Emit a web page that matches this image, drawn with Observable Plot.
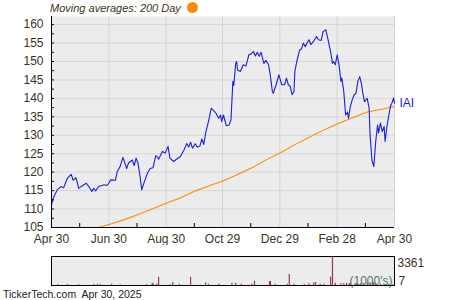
<!DOCTYPE html>
<html><head><meta charset="utf-8">
<script src="https://cdn.jsdelivr.net/npm/d3@7"></script>
<script src="https://cdn.jsdelivr.net/npm/@observablehq/plot@0.6"></script>
<style>
body{margin:0;background:#fff;font-family:"Liberation Sans",Arial,sans-serif;}
#wrap{position:relative;width:450px;height:300px;overflow:hidden;}
#main{position:absolute;left:0;top:0;}
#vol{position:absolute;left:0;top:250px;}
#legend{position:absolute;left:50px;top:1px;font-size:11px;font-style:italic;color:#3d3320;white-space:nowrap;line-height:14px;}
#legend .dot{display:inline-block;width:11px;height:11px;border-radius:50%;background:#ff8c00;margin-left:6px;vertical-align:-1px}
#caption{position:absolute;left:3px;top:288px;font-size:10.5px;color:#222;white-space:pre;line-height:13px;}
</style></head><body>
<div id="wrap">
<div id="main"></div><div id="vol"></div>
<div id="legend">Moving averages: 200 Day<span class="dot"></span></div>
<div id="caption">TickerTech.com  Apr 30, 2025</div>
</div>
<script>
const ticker = "IAI";
const xDomain = ["2024-04-30", "2025-04-30"];
const yDomain = [105, 162.2];
const yTicks = [105,110,115,120,125,130,135,140,145,150,155,160];
const yMinorTicks = [107.5,112.5,117.5,122.5,127.5,132.5,137.5,142.5,147.5,152.5,157.5];
const xTickDates = ["2024-04-30","2024-06-30","2024-08-30","2024-10-29","2024-12-29","2025-02-28","2025-04-30"];
const xTickLabels = ["Apr 30","Jun 30","Aug 30","Oct 29","Dec 29","Feb 28","Apr 30"];
const xMinorDates = ["2024-05-30","2024-07-30","2024-09-29","2024-11-28","2025-01-28","2025-03-30"];

const priceDates = ["2024-04-30","2024-05-02","2024-05-06","2024-05-10","2024-05-13","2024-05-17","2024-05-21","2024-05-23","2024-05-26","2024-05-29",
"2024-06-01","2024-06-06","2024-06-09","2024-06-12","2024-06-14","2024-06-16","2024-06-19","2024-06-25","2024-06-28","2024-06-30",
"2024-07-02","2024-07-07","2024-07-09","2024-07-12","2024-07-15","2024-07-17","2024-07-19","2024-07-21","2024-07-25","2024-07-27",
"2024-07-29","2024-07-31","2024-08-02","2024-08-04","2024-08-07","2024-08-10","2024-08-13","2024-08-16","2024-08-19","2024-08-21",
"2024-08-22","2024-08-26","2024-08-29","2024-09-01","2024-09-03","2024-09-07","2024-09-10","2024-09-14","2024-09-18","2024-09-21",
"2024-09-23","2024-09-25","2024-09-27","2024-09-30","2024-10-02","2024-10-05","2024-10-07","2024-10-09","2024-10-11","2024-10-14",
"2024-10-17","2024-10-19","2024-10-22","2024-10-25","2024-10-27","2024-10-28","2024-10-30","2024-11-02","2024-11-05","2024-11-07",
"2024-11-09","2024-11-10","2024-11-12","2024-11-13","2024-11-14","2024-11-17","2024-11-20","2024-11-23","2024-11-26","2024-11-28",
"2024-12-01","2024-12-03","2024-12-05","2024-12-07","2024-12-09","2024-12-12","2024-12-14","2024-12-17","2024-12-19","2024-12-21",
"2024-12-22","2024-12-25","2024-12-28","2024-12-29","2024-12-31","2025-01-03","2025-01-05","2025-01-07","2025-01-09","2025-01-11",
"2025-01-13","2025-01-14","2025-01-16","2025-01-19","2025-01-21","2025-01-23","2025-01-25","2025-01-27","2025-01-29","2025-01-31",
"2025-02-03","2025-02-06","2025-02-08","2025-02-11","2025-02-13","2025-02-16","2025-02-18","2025-02-21","2025-02-23","2025-02-24",
"2025-02-26","2025-02-28","2025-03-02","2025-03-04","2025-03-05","2025-03-07","2025-03-09","2025-03-11","2025-03-12","2025-03-14",
"2025-03-16","2025-03-18","2025-03-20","2025-03-22","2025-03-24","2025-03-26","2025-03-27","2025-03-29","2025-04-01","2025-04-03",
"2025-04-04","2025-04-06","2025-04-08","2025-04-10","2025-04-12","2025-04-13","2025-04-15","2025-04-17","2025-04-19","2025-04-20",
"2025-04-22","2025-04-24","2025-04-26","2025-04-27","2025-04-29","2025-04-30"];
const priceValues = [111.2,113.0,115.2,116.1,115.8,118.4,119.4,117.8,118.5,115.6,
116.2,117.0,116.0,114.8,115.6,114.9,116.1,116.6,116.4,117.0,
117.9,117.8,120.2,121.5,124.0,122.5,121.0,122.5,123.3,121.8,
123.8,122.5,119.3,115.2,117.5,119.7,121.0,121.2,124.5,124.0,
123.5,125.6,125.2,127.0,123.8,122.9,123.5,124.2,126.0,127.8,
126.8,128.1,126.5,127.7,126.8,127.1,129.0,127.5,130.6,133.7,
137.3,136.8,136.0,134.6,135.5,133.7,135.5,132.6,132.8,134.2,
144.6,143.5,149.5,150.0,147.7,147.3,149.1,148.8,151.8,152.0,
152.7,151.5,152.5,151.4,152.5,149.5,150.3,149.1,146.0,141.9,
141.4,143.7,146.4,145.5,143.7,143.7,145.5,143.7,143.3,141.0,
141.8,147.3,150.0,153.1,153.4,155.0,154.0,155.0,155.9,154.6,
155.5,156.8,155.9,155.7,158.1,158.6,156.3,152.7,149.5,150.0,
149.1,151.8,149.1,144.6,145.5,141.9,135.5,136.3,134.6,137.8,
139.6,141.0,141.3,144.6,145.9,143.7,141.9,139.1,140.0,137.3,
130.1,123.3,121.5,128.3,132.8,130.6,133.3,131.0,132.4,128.3,
132.4,135.5,138.2,138.5,140.1,138.7];

const maDates = ["2024-06-19","2024-07-01","2024-07-15","2024-08-01","2024-08-15","2024-09-01","2024-09-15","2024-10-01","2024-10-15","2024-11-01","2024-11-15","2024-12-01","2024-12-15","2025-01-01","2025-01-15","2025-02-01","2025-02-15","2025-03-01","2025-03-15","2025-04-01","2025-04-15","2025-04-30"];
const maValues = [105.0,105.9,107.0,108.6,110.0,111.8,113.1,115.0,116.3,117.9,119.5,121.4,123.4,125.6,127.6,129.8,131.6,133.2,134.6,136.3,137.0,137.8];

const volDates = ["2024-05-07","2024-05-17","2024-05-29","2024-06-14","2024-06-18","2024-06-21","2024-07-03","2024-07-12","2024-08-09","2024-08-15",
"2024-08-16","2024-08-20","2024-08-22","2024-09-03","2024-09-06","2024-09-13","2024-09-25","2024-10-11","2024-10-14","2024-10-25",
"2024-11-08","2024-11-12","2024-11-18","2024-11-29","2024-12-02","2024-12-18","2024-12-19","2024-12-24","2025-01-06","2025-01-08",
"2025-01-13","2025-01-24","2025-01-29","2025-02-03","2025-02-05","2025-02-10","2025-02-14","2025-02-21","2025-02-23","2025-02-26",
"2025-03-04","2025-03-07","2025-03-10","2025-03-13","2025-03-14","2025-03-19","2025-03-21","2025-03-25","2025-03-28","2025-04-01",
"2025-04-04","2025-04-07","2025-04-08","2025-04-10","2025-04-15","2025-04-21","2025-04-24","2025-04-28"];
const volValues = [100,100,100,150,150,100,150,100,100,200,
250,150,960,100,350,150,960,300,150,150,
250,250,150,150,500,450,450,150,150,1270,
150,120,200,300,350,150,150,960,3361,250,
200,200,250,200,250,200,250,200,200,250,
300,350,300,250,150,120,120,100];
const volMax = 3361, volMin = 7;
const volUnit = "(1000's)";

const price = priceDates.map((d, i) => ({date: new Date(d), value: priceValues[i]}));
const ma = maDates.map((d, i) => ({date: new Date(d), value: maValues[i]}));
const volume = volDates.map((d, i) => ({date: new Date(d), value: volValues[i]}));
const X0 = new Date(xDomain[0]), X1 = new Date(xDomain[1]);
const xTicks = xTickDates.map(d => new Date(d));
const xMinor = xMinorDates.map(d => new Date(d));
const labelMap = new Map(xTicks.map((d, i) => [+d, xTickLabels[i]]));
const font = "'Liberation Sans', Arial, sans-serif";
const txt = "#3d3320";
const blue = "#1c1ce0";

const mainChart = Plot.plot({
  width: 450, height: 245,
  marginLeft: 51, marginRight: 56, marginTop: 16, marginBottom: 18,
  style: {fontFamily: font, fontSize: "12px", color: "#000", background: "transparent"},
  x: {type: "utc", domain: [X0, X1], label: null},
  y: {domain: yDomain, label: null},
  marks: [
    Plot.frame({fill: "#ececec", stroke: "none"}),
    Plot.gridY(yTicks, {stroke: "#d5d5d5", strokeOpacity: 1}),
    Plot.gridX(xTicks, {stroke: "#d5d5d5", strokeOpacity: 1}),
    Plot.line(ma, {x: "date", y: "value", stroke: "#ff8c00", strokeWidth: 1.1}),
    Plot.line(price, {x: "date", y: "value", stroke: blue, strokeWidth: 1.1}),
    Plot.axisY(yTicks, {tickSize: 0, tickPadding: 8, fill: txt, fontSize: 12, label: null}),
    Plot.axisY(yTicks.concat(yMinorTicks), {tickSize: 3, dx: 3, tickFormat: () => "", stroke: "#000", label: null}),
    Plot.axisX(xTicks, {tickSize: 0, tickPadding: 7, tickFormat: d => labelMap.get(+d), fill: txt, fontSize: 12, label: null}),
    Plot.axisX(xMinor, {tickSize: 4, dy: -4, tickFormat: () => "", stroke: "#000", label: null}),
    Plot.ruleX([X0], {stroke: "#000"}),
    Plot.ruleY([yDomain[0]], {stroke: "#000"}),
    Plot.text([price[price.length - 1]], {x: "date", y: "value", text: () => ticker, dx: 5, textAnchor: "start", fill: blue, fontSize: 12})
  ]
});
document.getElementById("main").append(mainChart);

const volChart = Plot.plot({
  width: 450, height: 40,
  marginLeft: 51, marginRight: 56, marginTop: 6, marginBottom: 5,
  style: {fontFamily: font, fontSize: "12px", color: "#000", background: "transparent"},
  x: {type: "utc", domain: [X0, X1], axis: null},
  y: {domain: [0, volMax], axis: null},
  marks: [
    Plot.frame({fill: "#ececec", stroke: "none"}),
    Plot.ruleX(volume, {x: "date", y: "value", stroke: "#993366", strokeWidth: 1.2}),
    Plot.text([volUnit], {frameAnchor: "bottom-right", lineAnchor: "middle", dx: -2, dy: -4, textAnchor: "end", fill: "#4f7a65", fontSize: 12}),
    Plot.frame({stroke: "#000"}),
    Plot.text([String(volMax)], {frameAnchor: "top-right", lineAnchor: "middle", dx: 3, dy: 7, textAnchor: "start", fill: txt, fontSize: 12}),
    Plot.text([String(volMin)], {frameAnchor: "bottom-right", lineAnchor: "middle", dx: 4, dy: -4, textAnchor: "start", fill: txt, fontSize: 12})
  ]
});
document.getElementById("vol").append(volChart);
</script>
</body></html>
